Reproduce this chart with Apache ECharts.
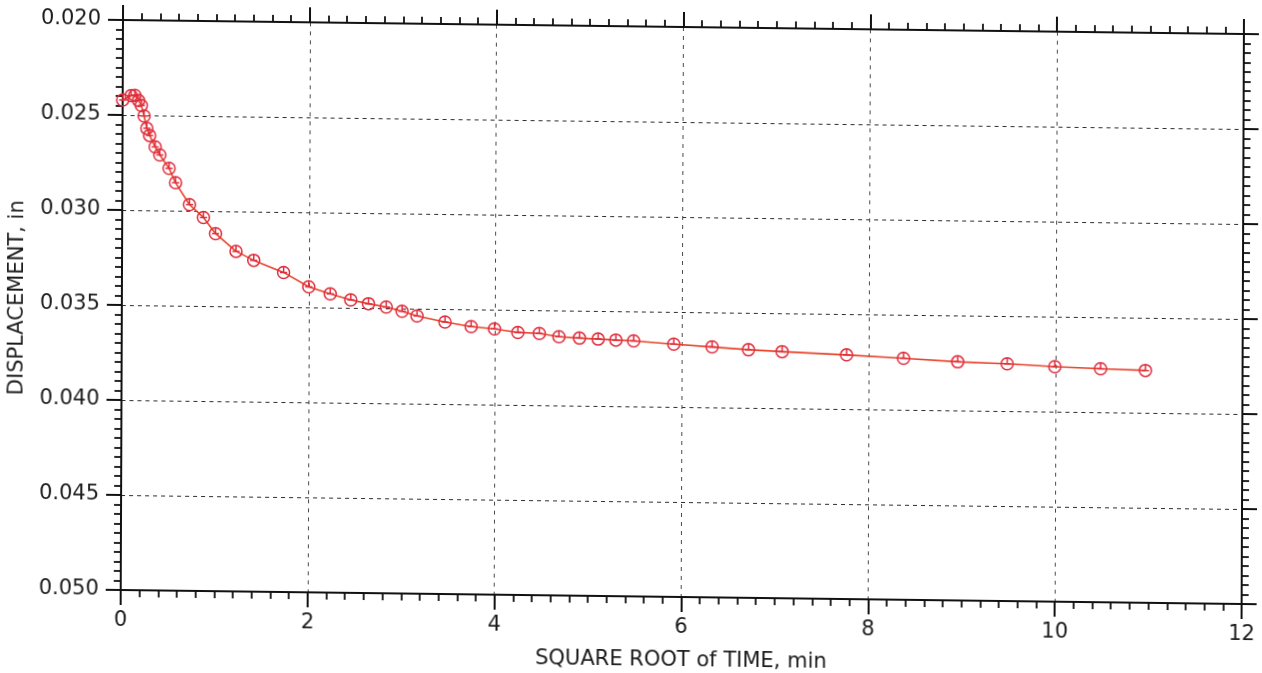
<!DOCTYPE html>
<html>
<head>
<meta charset="utf-8">
<title>Displacement vs square root of time</title>
<script src="https://cdn.jsdelivr.net/npm/echarts@6/dist/echarts.min.js"></script>
<style>
  html, body { margin: 0; padding: 0; background: #ffffff; }
  #chart {
    width: 1262px;
    height: 673px;
    /* the sheet sits slightly askew */
    transform-origin: 123px 20px;
    transform: matrix(1, 0.0125, -0.004, 1, 0, 0);
  }
</style>
</head>
<body>
<div id="chart"></div>
<script>
// square root of elapsed time, min^0.5
const sqrtTime = [
  0, 0.09, 0.13, 0.17, 0.20, 0.23, 0.26, 0.29, 0.35, 0.40,
  0.50, 0.57, 0.72, 0.87, 1.00, 1.22, 1.41, 1.73, 2.00, 2.23,
  2.45, 2.64, 2.83, 3.00, 3.16, 3.46, 3.74, 3.99, 4.24, 4.47,
  4.68, 4.90, 5.10, 5.29, 5.48, 5.91, 6.32, 6.71, 7.07, 7.76,
  8.37, 8.95, 9.48, 9.99, 10.48, 10.96
];
// dial reading, in
const displacement = [
  0.02421, 0.02397, 0.02396, 0.02423, 0.02449, 0.02504, 0.02569, 0.02606, 0.02666, 0.02708,
  0.02778, 0.02853, 0.02967, 0.03034, 0.03118, 0.03210, 0.03256, 0.03318, 0.03392, 0.03428,
  0.03458, 0.03477, 0.03493, 0.03515, 0.03538, 0.03568, 0.03591, 0.03601, 0.03618, 0.03622,
  0.03638, 0.03644, 0.03648, 0.03652, 0.03655, 0.03670, 0.03682, 0.03694, 0.03702, 0.03715,
  0.03729, 0.03744, 0.03751, 0.03763, 0.03771, 0.03777
];

const xRange = { min: 0, max: 12, step: 2 };
const yRange = { min: 0.020, max: 0.050, step: 0.005 };
const xTitle = 'SQUARE ROOT of TIME, min';
const yTitle = 'DISPLACEMENT, in';

const FONT = 'DejaVu Sans';
const INK = '#111111';
const LABEL = '#1c1c1c';

const points = sqrtTime.map((t, i) => [t, displacement[i]]);

// circle with a cross hair inside
const markerPath = 'path://M0,10 A10,10 0 1,0 20,10 A10,10 0 1,0 0,10 Z M10,1 L10,10 M4,10 L16,10';

const tickStyle = (len) => ({ show: true, inside: false, length: len, lineStyle: { color: INK, width: 2 } });
const minorStyle = { show: true, splitNumber: 10, length: 7, lineStyle: { color: INK, width: 1.8 } };

const chart = echarts.init(document.getElementById('chart'), null, { renderer: 'canvas' });

chart.setOption({
  backgroundColor: '#ffffff',
  animation: false,
  grid: { left: 123, top: 20, width: 1121, height: 570, containLabel: false },
  graphic: [
    {
      // vertical axis title, read bottom to top
      type: 'text',
      x: 19,
      y: 299,
      rotation: Math.PI / 2,
      style: {
        text: yTitle,
        fill: LABEL,
        font: '21px "DejaVu Sans"',
        textAlign: 'center',
        textVerticalAlign: 'middle'
      }
    }
  ],
  xAxis: [
    {
      type: 'value', position: 'bottom',
      min: xRange.min, max: xRange.max, interval: xRange.step,
      name: xTitle, nameLocation: 'middle', nameGap: 53,
      nameTextStyle: { fontFamily: FONT, fontSize: 21, color: LABEL },
      axisLine: { show: true, onZero: false, lineStyle: { color: INK, width: 2 } },
      axisTick: tickStyle(15),
      minorTick: minorStyle,
      axisLabel: { fontFamily: FONT, fontSize: 21, color: LABEL, margin: 20 },
      splitLine: { show: true, lineStyle: { color: '#4a4a4a', width: 1, type: [4, 5] } }
    },
    {
      type: 'value', position: 'top',
      min: xRange.min, max: xRange.max, interval: xRange.step,
      axisLine: { show: true, onZero: false, lineStyle: { color: INK, width: 2 } },
      axisTick: tickStyle(15),
      minorTick: minorStyle,
      axisLabel: { show: false },
      splitLine: { show: false }
    }
  ],
  yAxis: [
    {
      type: 'value', position: 'left', inverse: true,
      min: yRange.min, max: yRange.max, interval: yRange.step,
      axisLine: { show: true, onZero: false, lineStyle: { color: INK, width: 2 } },
      axisTick: tickStyle(15),
      minorTick: minorStyle,
      axisLabel: { fontFamily: FONT, fontSize: 21, color: LABEL, margin: 22,
                   formatter: (v) => v.toFixed(3) },
      splitLine: { show: true, lineStyle: { color: '#2e2e2e', width: 1, type: [4, 4] } }
    },
    {
      type: 'value', position: 'right', inverse: true,
      min: yRange.min, max: yRange.max, interval: yRange.step,
      axisLine: { show: true, onZero: false, lineStyle: { color: INK, width: 2 } },
      axisTick: tickStyle(15),
      minorTick: minorStyle,
      axisLabel: { show: false },
      splitLine: { show: false }
    }
  ],
  series: [
    {
      type: 'line',
      xAxisIndex: 0,
      yAxisIndex: 0,
      data: points,
      clip: false,
      symbol: markerPath,
      symbolSize: 12,
      lineStyle: { color: '#e8432a', width: 1.6 },
      itemStyle: { color: 'rgba(0,0,0,0)', borderColor: '#df2c3c', borderWidth: 1.5 },
      z: 5
    }
  ]
});
</script>
</body>
</html>
